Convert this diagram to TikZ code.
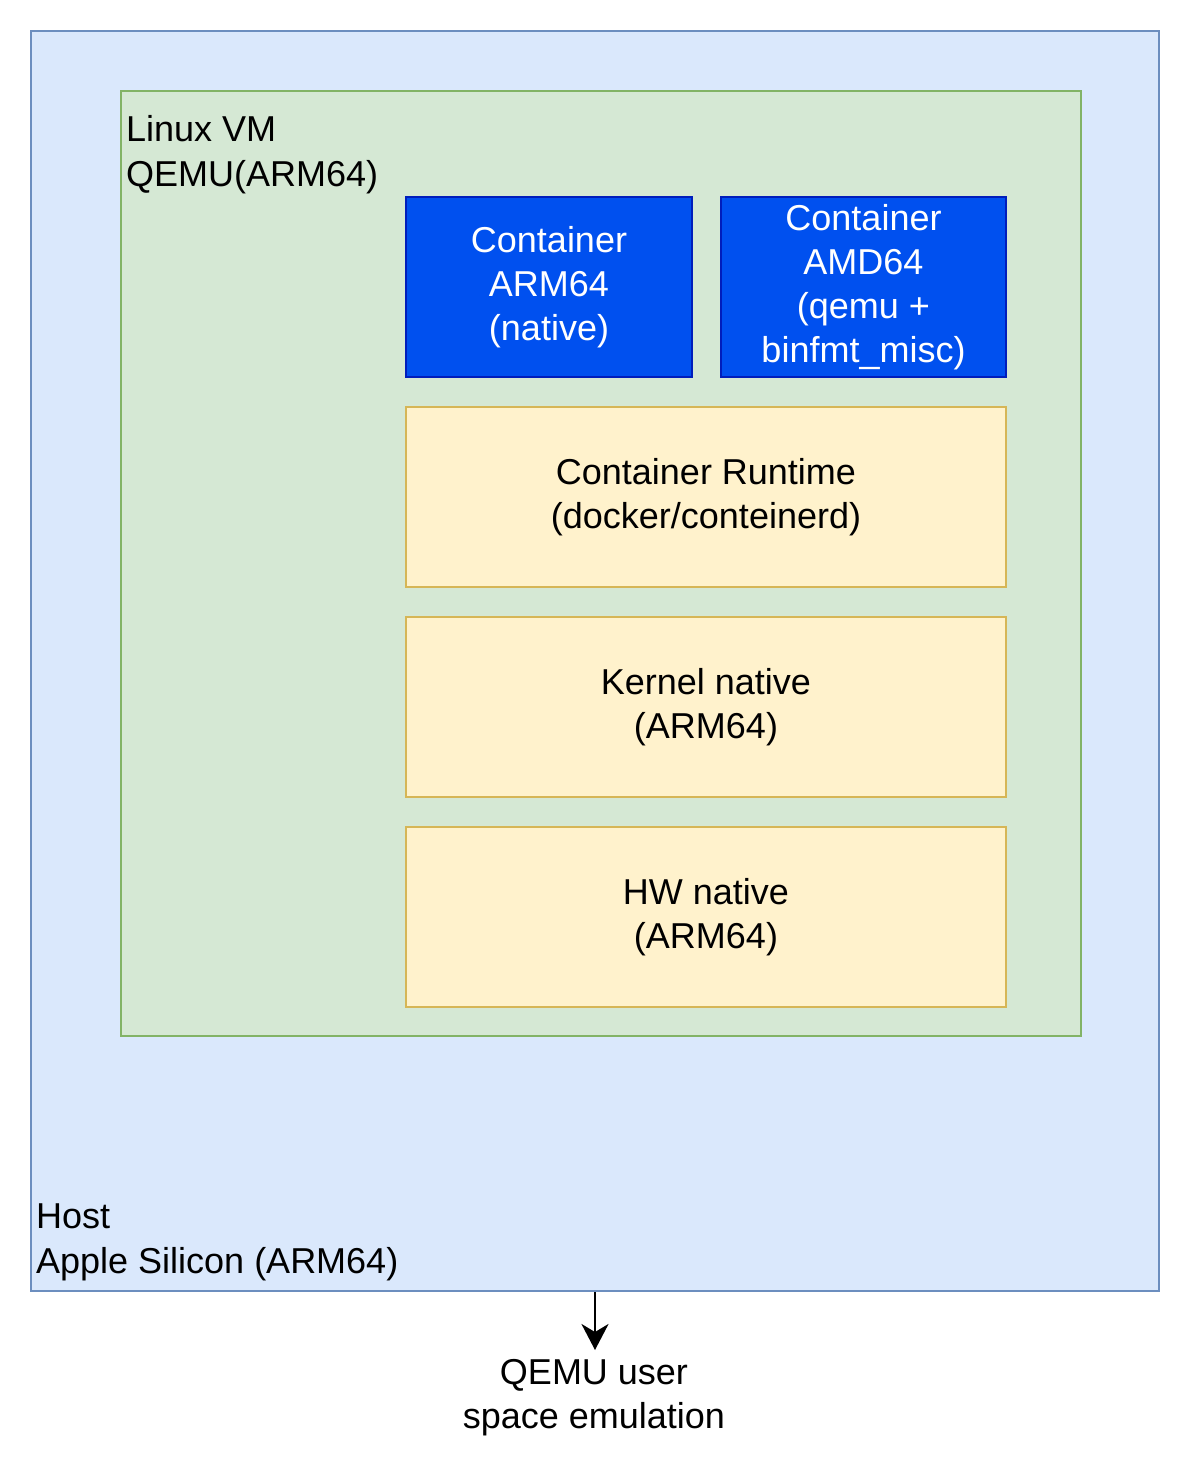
\documentclass[tikz,border=0pt]{standalone}
\usepackage{fontspec}
\setmainfont{Liberation Sans}
\usetikzlibrary{arrows.meta}
\definecolor{hostfill}{HTML}{DAE8FC}
\definecolor{hostdraw}{HTML}{6C8EBF}
\definecolor{vmfill}{HTML}{D5E8D4}
\definecolor{vmdraw}{HTML}{82B366}
\definecolor{bluefill}{HTML}{0050EF}
\definecolor{bluedraw}{HTML}{001DBC}
\definecolor{yelfill}{HTML}{FFF2CC}
\definecolor{yeldraw}{HTML}{D6B656}
\tikzset{
  txt/.style={font=\fontsize{36}{44}\selectfont, align=center, inner sep=0pt},
  hostbox/.style={draw=hostdraw, fill=hostfill, line width=2.5pt, minimum width=1128pt, minimum height=1260pt, inner sep=0pt},
  vmbox/.style={draw=vmdraw, fill=vmfill, line width=2.5pt, minimum width=960pt, minimum height=945pt, inner sep=0pt},
  contbox/.style={draw=bluedraw, fill=bluefill, line width=2.5pt, text=white, txt, minimum width=286pt, minimum height=180pt},
  layerbox/.style={draw=yeldraw, fill=yelfill, line width=2.5pt, txt, minimum width=600pt, minimum height=180pt},
  lbl/.style={font=\fontsize{36}{45}\selectfont, align=left, inner sep=0pt, anchor=west},
}
\begin{document}
\begin{tikzpicture}[x=1pt,y=-1pt]
\useasboundingbox (0,0) rectangle (1191,1473);
\node[hostbox] (host) at (595,661) {};
\node[vmbox] (vm) at (601,563.5) {};
\node[contbox] (arm) at (549,287) {Container\\ARM64\\(native)};
\node[contbox, minimum width=285pt] (amd) at (863.5,287) {Container\\AMD64\\(qemu +\\binfmt\_misc)};
\node[layerbox] (rt) at (706,497) {Container Runtime\\(docker/conteinerd)};
\node[layerbox] (kern) at (706,707) {Kernel native\\(ARM64)};
\node[layerbox] (hw) at (706,917) {HW native\\(ARM64)};
\node[lbl] (vmlbl) at (126,155) {Linux VM\\QEMU(ARM64)};
\node[lbl] (hostlbl) at (36,1242) {Host\\Apple Silicon (ARM64)};
\coordinate (tip) at (595,1350);
\node[txt] (qemu) at (594,1398) {QEMU user\\space emulation};
\draw[line width=2.5pt, -{Stealth[length=26pt, width=27pt, inset=8pt]}] (host.south) -- (tip);
\end{tikzpicture}
\end{document}
